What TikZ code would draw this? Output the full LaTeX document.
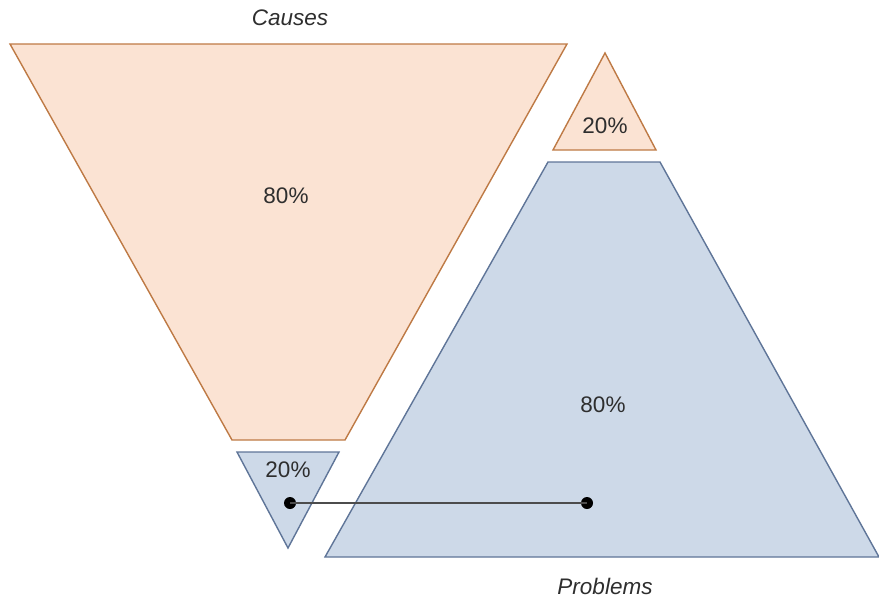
\documentclass[tikz,border=0pt]{standalone}
\usepackage{fontspec}
\setmainfont{Liberation Sans}
\begin{document}
\begin{tikzpicture}[x=1pt,y=-1pt,
  orangeshape/.style={draw=orangeline,fill=orangefill,line width=1.4pt,line join=miter},
  blueshape/.style={draw=blueline,fill=bluefill,line width=1.4pt,line join=miter},
  pct/.style={text=textgray,font=\fontsize{22.5}{24}\selectfont,inner sep=0pt},
  caption/.style={text=textgray,font=\fontsize{22.5}{24}\selectfont\itshape,inner sep=0pt},
  dotnode/.style={circle,fill=black,inner sep=0pt,minimum size=12pt}]
\definecolor{orangefill}{HTML}{FBE3D3}
\definecolor{orangeline}{HTML}{BE7A45}
\definecolor{bluefill}{HTML}{CDD9E8}
\definecolor{blueline}{HTML}{5F7598}
\definecolor{textgray}{HTML}{2E2E2E}
\useasboundingbox (0,0) rectangle (879,600);
% Shapes
\draw[orangeshape] (10,44) -- (567,44) -- (345,440) -- (232,440) -- cycle;
\draw[orangeshape] (605,53) -- (656,150) -- (553,150) -- cycle;
\draw[blueshape] (548,162) -- (660,162) -- (879,557) -- (325,557) -- cycle;
\draw[blueshape] (237,452) -- (339,452) -- (288,548) -- cycle;
% Labels
\node[pct] (c80) at (286,196) {80\%};
\node[pct] (c20) at (605,126) {20\%};
\node[pct] (p80) at (603,405) {80\%};
\node[pct] (p20) at (288,470) {20\%};
\node[caption] (causes) at (290,18) {Causes};
\node[caption] (problems) at (605,586) {Problems};
% Connector
\node[dotnode] (d1) at (290,503) {};
\node[dotnode] (d2) at (587,503) {};
\draw[line width=2.6pt,draw=black!70] (d1.center) -- (d2.center);
\end{tikzpicture}
\end{document}
